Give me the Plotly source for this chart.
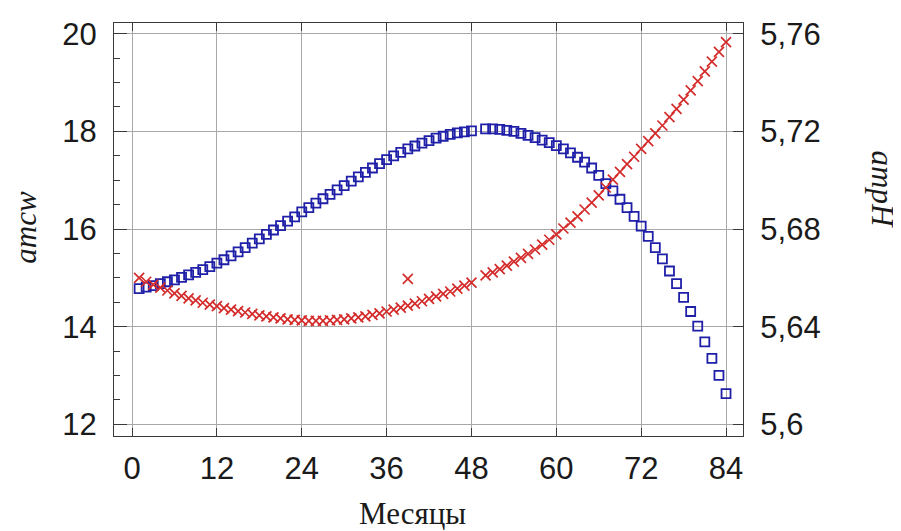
import plotly.graph_objects as go

# Months (month 49 missing in both series)
months = [m for m in range(1, 49)] + [m for m in range(50, 85)]

# amcw (left axis) - blue squares
amcw = [14.78, 14.81, 14.84, 14.88, 14.92, 14.96, 15.01, 15.06, 15.11, 15.17,
        15.23, 15.30, 15.37, 15.45, 15.53, 15.62, 15.71, 15.80, 15.89, 15.98,
        16.07, 16.16, 16.25, 16.35, 16.44, 16.53, 16.62, 16.71, 16.80, 16.89,
        16.98, 17.07, 17.16, 17.25, 17.34, 17.42, 17.50, 17.57, 17.64, 17.70,
        17.76, 17.81, 17.86, 17.90, 17.94, 17.97, 17.99, 18.01,
        18.05, 18.05, 18.04, 18.02, 18.00, 17.96, 17.92, 17.87, 17.82, 17.77,
        17.71, 17.64, 17.56, 17.47, 17.37, 17.25, 17.10, 16.93, 16.78, 16.61,
        16.44, 16.26, 16.06, 15.85, 15.62, 15.39, 15.14, 14.88, 14.60, 14.31,
        14.01, 13.69, 13.35, 13.00, 12.63]

# ampH (right axis) - red crosses
ampH = [5.6600, 5.6584, 5.6572, 5.6560, 5.6548, 5.6536, 5.6526, 5.6516, 5.6508, 5.6498,
        5.6490, 5.6484, 5.6476, 5.6470, 5.6464, 5.6458, 5.6452, 5.6446, 5.6442, 5.6438,
        5.6434, 5.6430, 5.6428, 5.6426, 5.6424, 5.6424, 5.6424, 5.6426, 5.6428, 5.6430,
        5.6434, 5.6438, 5.6442, 5.6448, 5.6454, 5.6462, 5.6470, 5.6478, 5.6486, 5.6494,
        5.6504, 5.6514, 5.6524, 5.6534, 5.6544, 5.6556, 5.6568, 5.6580,
        5.6610, 5.6622, 5.6636, 5.6650, 5.6666, 5.6682, 5.6698, 5.6716, 5.6736, 5.6756,
        5.6778, 5.6802, 5.6826, 5.6852, 5.6880, 5.6908, 5.6938, 5.6970, 5.7002, 5.7034,
        5.7066, 5.7096, 5.7128, 5.7160, 5.7192, 5.7224, 5.7258, 5.7292, 5.7330, 5.7368,
        5.7406, 5.7446, 5.7486, 5.7526, 5.7566]

# single outlying ampH reading
outlier_month = [39]
outlier_ampH = [5.6596]

x_ticks = [0, 12, 24, 36, 48, 60, 72, 84]
left_ticks = [12, 14, 16, 18, 20]
right_tickvals = [5.60, 5.64, 5.68, 5.72, 5.76]
right_ticktext = ["5,6", "5,64", "5,68", "5,72", "5,76"]

BLUE = "#1f1fa8"
RED = "#d42b2b"
GRID = "#a8a8a8"
LINE = "#3a3a3a"
TICKFONT = dict(family="Liberation Sans, Arial, sans-serif", size=31, color="#1a1a1a")
TITLEFONT = dict(family="Liberation Serif, Times New Roman, serif", size=31, color="#1a1a1a")

fig = go.Figure()
fig.add_trace(go.Scatter(
    x=months, y=amcw, mode="markers", yaxis="y",
    marker=dict(symbol="square-open", size=9, color=BLUE, line=dict(width=1.8, color=BLUE)),
    showlegend=False))
fig.add_trace(go.Scatter(
    x=months, y=ampH, mode="markers", yaxis="y2",
    marker=dict(symbol="x-thin-open", size=10, color=RED, line=dict(width=1.7, color=RED)),
    showlegend=False))
fig.add_trace(go.Scatter(
    x=outlier_month, y=outlier_ampH, mode="markers", yaxis="y2",
    marker=dict(symbol="x-thin-open", size=10, color=RED, line=dict(width=1.7, color=RED)),
    showlegend=False))

fig.update_layout(
    width=893, height=523,
    margin=dict(l=106, r=158, t=9, b=95),
    paper_bgcolor="white", plot_bgcolor="white",
    xaxis=dict(range=[-2.55, 86.4], tickvals=x_ticks, ticks="inside", ticklen=8,
               tickcolor=LINE, showline=True, linecolor=LINE, linewidth=1.2, mirror="ticks",
               showgrid=True, gridcolor=GRID, gridwidth=1, zeroline=False,
               tickfont=TICKFONT, ticklabelstandoff=5),
    yaxis=dict(range=[11.76, 20.22], tickvals=left_ticks, ticks="inside", ticklen=13,
               tickcolor=LINE, showline=True, linecolor=LINE, linewidth=1.2,
               showgrid=True, gridcolor=GRID, gridwidth=1, zeroline=False,
               tickfont=TICKFONT, ticklabelstandoff=10,
               minor=dict(dtick=0.5, ticks="inside", ticklen=6, tickcolor=LINE, showgrid=False)),
    yaxis2=dict(range=[5.5952, 5.7644], tickvals=right_tickvals, ticktext=right_ticktext,
                overlaying="y", side="right", ticks="inside", ticklen=10,
                tickcolor=LINE, showline=True, linecolor=LINE, linewidth=1.2,
                showgrid=False, zeroline=False, tickfont=TICKFONT, ticklabelstandoff=10),
    annotations=[
        dict(text="<i>amcw</i>", xref="paper", yref="paper", x=-0.142, y=0.506,
             textangle=-90, showarrow=False, font=TITLEFONT, xanchor="center", yanchor="middle"),
        dict(text="<i>ampH</i>", xref="paper", yref="paper", x=1.221, y=0.599,
             textangle=90, showarrow=False, font=TITLEFONT, xanchor="center", yanchor="middle"),
        dict(text="Месяцы", xref="paper", yref="paper", x=0.475, y=-0.1885,
             showarrow=False, font=TITLEFONT, xanchor="center", yanchor="middle"),
    ],
)

fig.write_html("out.html")
